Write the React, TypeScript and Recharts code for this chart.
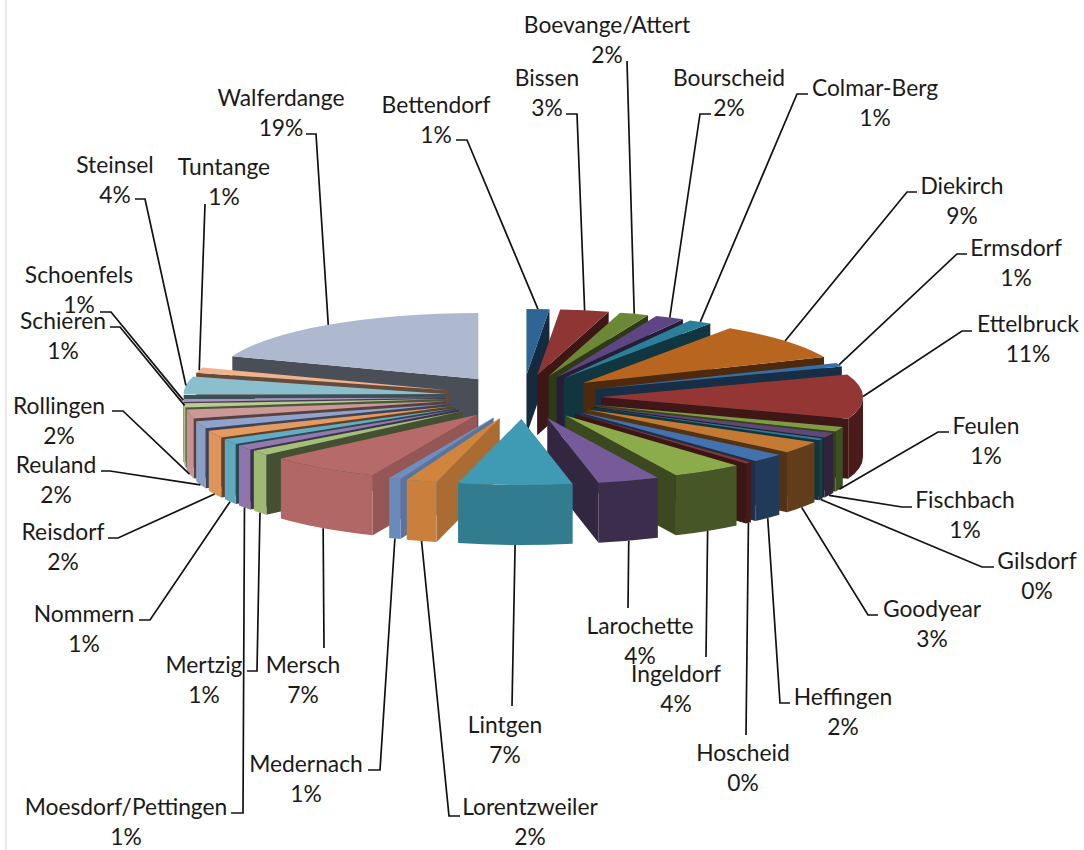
import { PieChart, Pie } from "recharts"

// Communes, in pie order (clockwise from the top)
const communes = [
  "Bettendorf", "Bissen", "Boevange/Attert", "Bourscheid", "Colmar-Berg", "Diekirch", "Ermsdorf", "Ettelbruck",
  "Feulen", "Fischbach", "Gilsdorf", "Goodyear", "Heffingen", "Hoscheid", "Ingeldorf", "Larochette",
  "Lintgen", "Lorentzweiler", "Medernach", "Mersch", "Mertzig", "Moesdorf/Pettingen", "Nommern", "Reisdorf",
  "Reuland", "Rollingen", "Schieren", "Schoenfels", "Steinsel", "Tuntange", "Walferdange",
]
const shares = [
  1.4, 3.0, 1.8, 1.8, 1.45, 9.1, 0.9, 10.9,
  1.2, 1.2, 0.49, 2.9, 2.1, 0.4, 4.4, 3.8,
  7.0, 1.9, 0.75, 6.95, 1.2, 1.2, 1.3, 1.8,
  1.8, 2.2, 1.0, 0.9, 4.4, 1.3, 19.4,
]
const colors = [
  "#2E6496", "#8F3634", "#6C8736", "#5E4583", "#2A8099", "#B8651F", "#376EA8", "#943634",
  "#7F9C45", "#5F4879", "#2B7C92", "#C47A33", "#4273B0", "#8B3431", "#8CAB4B", "#775A9A",
  "#3F9BB3", "#D0843E", "#6C8FC0", "#B66A69", "#A3BF78", "#9379B0", "#62ADC5", "#E59A5F",
  "#8FA3CC", "#CC9898", "#B7CE8E", "#A995BE", "#8CBFCE", "#F1B28C", "#AEB9D0",
]

// Label layout: centre of the name line, then the bend(s) of the leader line
const labelCentres = [
  [436, 104], [547, 77], [607, 24], [729, 77], [875, 87], [962, 185], [1016, 247], [1028, 323],
  [986, 425], [965, 499], [1037, 560], [932, 608], [843, 696], [743, 752], [676, 673], [640, 625],
  [505, 724], [530, 806], [306, 763], [303, 664], [204, 664], [126, 806], [84, 613], [63, 531],
  [56, 464], [59, 405], [63, 320], [79, 274], [115, 164], [224, 166], [281, 97],
]
const leaderBends = [
  [[467, 140], [456, 140]], [[577, 114], [566, 114]], [[627, 61]], [[700, 114], [711, 114]],
  [[797, 94], [808, 94]], [[907, 192], [917, 192]], [[957, 254], [967, 254]], [[962, 331], [972, 331]],
  [[938, 432], [949, 432]], [[902, 507], [912, 507]], [[982, 567], [994, 567]], [[868, 615], [878, 615]],
  [[780, 703], [790, 703]], [[746, 735]], [[706, 657]], [[628, 608]],
  [[512, 706]], [[449, 816], [460, 816]], [[380, 770], [368, 770]], [[324, 648]],
  [[257, 671], [247, 671]], [[243, 813], [231, 813]], [[150, 620], [139, 620]], [[118, 538], [108, 538]],
  [[110, 471], [101, 471]], [[123, 411], [112, 411]], [[120, 327], [110, 327]], [[111, 312], [100, 312]],
  [[145, 199], [135, 199]], [[205, 204]], [[316, 134], [306, 134]],
]

const data = communes.map((name, i) => ({ name, value: shares[i], fill: colors[i] }))
const reversed = [...data].reverse()

const RADIUS = 262
const SQUASH = 66 / 262
const DEPTH = 60
const EXPLODE_X = 78
const EXPLODE_Y = 22
const LABEL_FONT = { fontFamily: "Lato", fontSize: 22.8, fill: "#1a1a1a" }

const rad = (deg: number) => (deg * Math.PI) / 180

const shade = (hex: string, k: number) => {
  const n = parseInt(hex.slice(1), 16)
  const c = [n >> 16, (n >> 8) & 255, n & 255].map((v) => Math.round(v * k))
  return `rgb(${c[0]},${c[1]},${c[2]})`
}

// sector angles from recharts -> clock angles (0 = top, clockwise)
const clockRange = (p: any) => {
  const a = 90 - p.startAngle
  const b = 90 - p.endAngle
  return [Math.min(a, b), Math.max(a, b)]
}

const offsetFor = (p: any, mid: number) => ({
  x: p.cx + EXPLODE_X * Math.sin(rad(mid)),
  y: p.cy - EXPLODE_Y * Math.cos(rad(mid)),
})

const rimPoint = (o: { x: number; y: number }, r: number, deg: number) => ({
  x: o.x + r * Math.sin(rad(deg)),
  y: o.y - r * SQUASH * Math.cos(rad(deg)),
})

const Walls = (p: any, leftSide: boolean) => {
  const [lo, hi] = clockRange(p)
  const mid = (lo + hi) / 2
  if (mid >= 180 !== leftSide) return <g />
  const o = offsetFor(p, mid)
  const r = p.outerRadius
  const ry = r * SQUASH

  // cut face that looks at the viewer
  const edge = rimPoint(o, r, leftSide ? lo : hi)
  const cut = `M${o.x},${o.y} L${edge.x},${edge.y} L${edge.x},${edge.y + DEPTH} L${o.x},${o.y + DEPTH} Z`
  const front = leftSide ? mid < 225 : false
  const cutFill = shade(p.fill, leftSide ? (front ? 0.82 : 0.42) : 0.42)

  // rim, front half only
  const from = Math.max(lo, 90)
  const to = Math.min(hi, 270)
  let rim = null
  if (to > from) {
    const a = rimPoint(o, r, from)
    const b = rimPoint(o, r, to)
    const d = `M${a.x},${a.y} A${r},${ry} 0 0 1 ${b.x},${b.y} L${b.x},${b.y + DEPTH} A${r},${ry} 0 0 0 ${a.x},${a.y + DEPTH} Z`
    const k = leftSide ? (mid < 190 ? 0.8 : 0.97) : 0.5
    rim = <path d={d} fill={shade(p.fill, k)} />
  }
  return (
    <g>
      <path d={cut} fill={cutFill} />
      {rim}
    </g>
  )
}

const TopFace = (p: any) => {
  const [lo, hi] = clockRange(p)
  const mid = (lo + hi) / 2
  const o = offsetFor(p, mid)
  const r = p.outerRadius
  const a = rimPoint(o, r, lo)
  const b = rimPoint(o, r, hi)
  const big = hi - lo > 180 ? 1 : 0
  return <path d={`M${o.x},${o.y} L${a.x},${a.y} A${r},${r * SQUASH} 0 ${big} 1 ${b.x},${b.y} Z`} fill={p.fill} />
}

const SliceLabel = (p: any) => {
  const i = p.index
  const [tx, ty] = labelCentres[i]
  const mid = 90 - p.midAngle
  const o = offsetFor(p, mid)
  const start = rimPoint(o, p.outerRadius, mid)
  const onFront = mid > 100 && mid < 262
  const pts = [[start.x, start.y + (onFront ? DEPTH : 0)], ...leaderBends[i]]
  return (
    <g>
      <polyline points={pts.map((q) => q.join(",")).join(" ")} fill="none" stroke="#111" strokeWidth={1.7} />
      <text x={tx} y={ty} textAnchor="middle" dominantBaseline="central" {...LABEL_FONT}>
        {communes[i]}
      </text>
      <text x={tx} y={ty + 30} textAnchor="middle" dominantBaseline="central" {...LABEL_FONT}>
        {`${Math.round(shares[i])}%`}
      </text>
    </g>
  )
}

export default function App() {
  const common = { dataKey: "value", nameKey: "name", cx: 523, cy: 397, outerRadius: RADIUS, isAnimationActive: false, stroke: "none" }
  return (
    <div style={{ position: "absolute", left: 0, top: 0, width: 1084, height: 850, background: "#fff" }}>
      <div style={{ position: "absolute", left: 5, top: 0, width: 2, height: 850, background: "#e8e8e8" }} />
      <PieChart width={1084} height={850} margin={{ top: 0, right: 0, bottom: 0, left: 0 }}>
        {/* right half walls, back to front */}
        <Pie {...common} data={data} startAngle={90} endAngle={-270} shape={(p: any) => Walls(p, false)} label={false} labelLine={false} />
        {/* left half walls, back to front (same geometry, data walked the other way) */}
        <Pie {...common} data={reversed} startAngle={-270} endAngle={90} shape={(p: any) => Walls(p, true)} label={false} labelLine={false} />
        <Pie {...common} data={data} startAngle={90} endAngle={-270} shape={TopFace} label={SliceLabel} labelLine={false} />
      </PieChart>
    </div>
  )
}
